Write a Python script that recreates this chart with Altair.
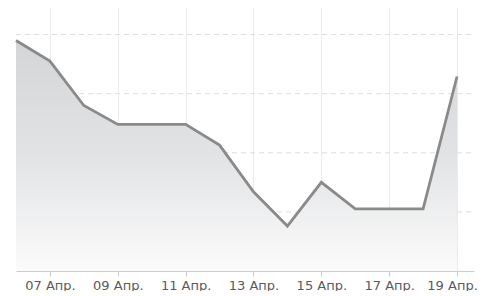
import altair as alt
import pandas as pd

days = [6, 7, 8, 9, 10, 11, 12, 13, 14, 15, 16, 17, 18, 19]
values = [390, 355, 280, 248, 248, 248, 213, 134, 76, 150, 105, 105, 105, 329]
tick_days = [7, 9, 11, 13, 15, 17, 19]
tick_labels = ["07 Апр.", "09 Апр.", "11 Апр.", "13 Апр.", "15 Апр.", "17 Апр.", "19 Апр."]
y_grid = [100, 200, 300, 400]

df = pd.DataFrame({"day": days, "value": values})
grid_df = pd.DataFrame({"g": y_grid})

label_map = "{" + ",".join(f"'{d}':'{l}'" for d, l in zip(tick_days, tick_labels)) + "}"

x = alt.X("day:Q", scale=alt.Scale(domain=[6, 19.5], nice=False, zero=False),
          axis=alt.Axis(values=tick_days, labelExpr=f"{label_map}[datum.value]",
                        title=None, grid=True, gridColor="#ebebeb", gridWidth=1,
                        domainColor="#cccccc", tickColor="#cccccc", tickSize=5,
                        labelColor="#5a5a5a", labelFontSize=13, labelFont="DejaVu Sans",
                        labelPadding=3, labelFlush=False, labelOverlap=False,
                        labelOffset={"condition": {"test": f"datum.value == {tick_days[-1]}", "value": -5},
                                     "value": 0}))
y = alt.Y("value:Q", scale=alt.Scale(domain=[0, 450], nice=False),
          axis=None)

area = alt.Chart(df).mark_area(
    color=alt.Gradient(gradient="linear",
                       stops=[alt.GradientStop(color="#d4d5d7", offset=0),
                              alt.GradientStop(color="#e2e3e5", offset=0.5),
                              alt.GradientStop(color="#fbfbfb", offset=1)],
                       x1=1, x2=1, y1=0, y2=1),
    line=False
).encode(x=x, y=y)

grid = alt.Chart(grid_df).mark_rule(color="#dddddd", strokeDash=[5, 4], strokeWidth=1).encode(
    y=alt.Y("g:Q", scale=alt.Scale(domain=[0, 450], nice=False), axis=None),
    x=alt.value(0), x2=alt.value(459))

line = alt.Chart(df).mark_line(color="#8a8a8a", strokeWidth=2.8).encode(x=x, y=y)

chart = alt.layer(grid, area, line).properties(
    width=458, height=266,
    autosize=alt.AutoSizeParams(type="none"),
    padding={"left": 8, "top": -3, "right": 6, "bottom": 20}
).configure_view(stroke=None)

chart.save("out.html", embed_options={"renderer": "svg", "actions": False})
